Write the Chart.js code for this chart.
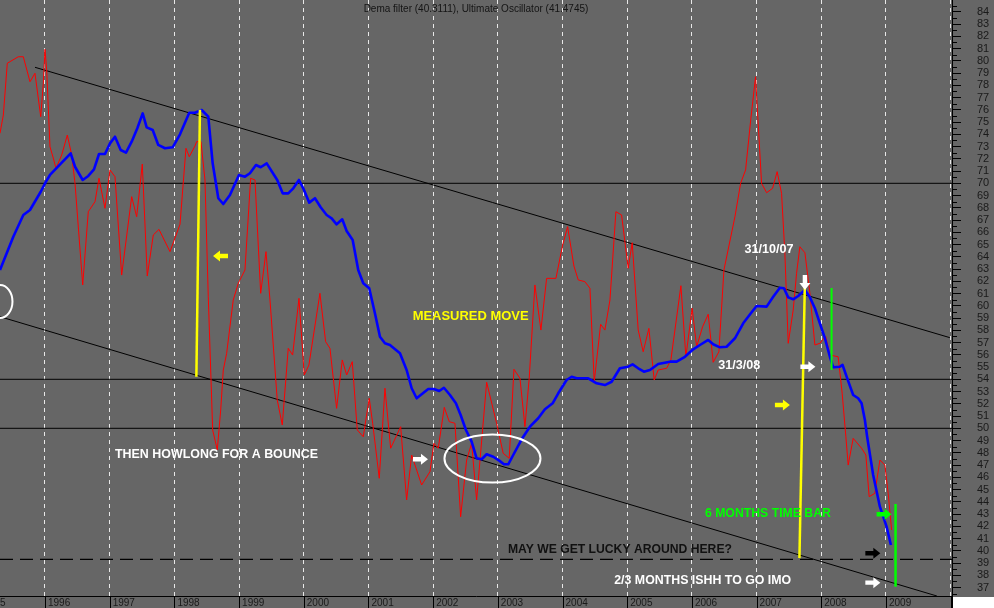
<!DOCTYPE html>
<html>
<head>
<meta charset="utf-8">
<script src="https://cdn.jsdelivr.net/npm/chart.js@4.4.1/dist/chart.umd.min.js"></script>
<style>
  html, body { margin: 0; padding: 0; background: #666666; }
  canvas { display: block; }
</style>
</head>
<body>
<canvas id="chart" width="994" height="608"></canvas>
<script>
// --- data (decimal years / oscillator values) ---
const redYears = [
  1995.304, 1995.356, 1995.417, 1995.459, 1995.587, 1995.665, 1995.768, 1995.845, 1995.934, 1995.974,
  1996.000, 1996.026, 1996.077, 1996.128, 1996.170, 1996.258, 1996.345, 1996.413, 1996.464, 1996.583,
  1996.669, 1996.773, 1996.835, 1996.927, 1997.005, 1997.082, 1997.185, 1997.340, 1997.417, 1997.504,
  1997.581, 1997.674, 1997.762, 1997.932, 1998.087, 1998.179, 1998.230, 1998.318, 1998.345, 1998.411,
  1998.473, 1998.524, 1998.592, 1998.663, 1998.716, 1998.756, 1998.808, 1998.910, 1998.988, 1999.091,
  1999.179, 1999.246, 1999.334, 1999.416, 1999.478, 1999.590, 1999.668, 1999.760, 1999.828, 1999.926,
  2000.008, 2000.080, 2000.250, 2000.338, 2000.405, 2000.508, 2000.595, 2000.663, 2000.750, 2000.827,
  2000.920, 2001.012, 2001.065, 2001.167, 2001.255, 2001.343, 2001.498, 2001.590, 2001.668, 2001.822,
  2001.951, 2002.012, 2002.079, 2002.172, 2002.249, 2002.337, 2002.425, 2002.518, 2002.595, 2002.672,
  2002.827, 2002.981, 2003.083, 2003.176, 2003.249, 2003.342, 2003.419, 2003.485, 2003.573, 2003.666,
  2003.754, 2003.898, 2004.002, 2004.079, 2004.176, 2004.243, 2004.346, 2004.424, 2004.490, 2004.589,
  2004.655, 2004.733, 2004.825, 2004.913, 2005.015, 2005.077, 2005.170, 2005.247, 2005.335, 2005.417,
  2005.479, 2005.609, 2005.675, 2005.830, 2005.907, 2006.004, 2006.073, 2006.165, 2006.252, 2006.329,
  2006.417, 2006.495, 2006.665, 2006.753, 2006.830, 2006.912, 2006.984, 2007.077, 2007.155, 2007.247,
  2007.318, 2007.386, 2007.437, 2007.489, 2007.566, 2007.618, 2007.669, 2007.747, 2007.824, 2007.901,
  2007.978, 2008.067, 2008.133, 2008.261, 2008.323, 2008.380, 2008.416, 2008.493, 2008.623, 2008.689,
  2008.740, 2008.828, 2008.906, 2008.983, 2009.034, 2009.087
];
const ultimateOsc = [
  74.08, 75.57, 79.80, 79.93, 80.33, 80.33, 78.29, 78.98, 75.44, 78.16,
  80.94, 79.25, 72.99, 72.06, 71.22, 72.31, 73.94, 72.31, 70.00, 61.70,
  67.68, 68.50, 70.41, 67.96, 71.09, 70.54, 62.51, 68.91, 67.27, 71.57,
  62.43, 65.78, 66.24, 64.42, 66.65, 72.86, 72.17, 73.04, 73.40, 73.40,
  70.27, 60.74, 49.86, 48.23, 51.49, 54.76, 56.12, 60.47, 61.84, 62.92,
  70.41, 70.27, 61.02, 64.42, 60.47, 52.31, 50.27, 56.53, 55.98, 60.61,
  54.35, 55.17, 61.02, 57.07, 56.53, 51.63, 55.58, 54.35, 55.44, 49.86,
  49.31, 52.45, 50.41, 45.92, 53.27, 48.37, 50.13, 44.15, 47.82, 45.37,
  46.46, 48.78, 48.37, 51.71, 50.54, 50.41, 42.78, 47.41, 48.78, 44.15,
  53.76, 50.41, 47.96, 47.55, 54.82, 54.08, 50.13, 54.08, 61.70, 58.02,
  62.24, 62.24, 64.96, 66.46, 63.25, 62.11, 61.97, 61.43, 53.80, 58.49,
  58.02, 60.47, 67.68, 67.41, 63.06, 65.15, 58.02, 56.25, 58.16, 53.94,
  54.76, 54.90, 55.58, 61.64, 55.84, 59.80, 56.66, 58.29, 59.31, 55.39,
  56.25, 62.92, 67.27, 70.00, 71.09, 75.31, 78.70, 70.00, 69.23, 69.59,
  70.95, 69.18, 64.29, 56.94, 59.66, 62.65, 64.82, 64.33, 61.02, 56.80,
  56.94, 57.53, 55.98, 55.84, 52.86, 49.31, 47.00, 49.18, 48.37, 47.82,
  44.42, 44.69, 47.41, 47.00, 44.69, 41.70
];

const blueYears = [
  1995.304, 1995.408, 1995.510, 1995.665, 1995.768, 1995.934, 1996.015, 1996.077, 1996.397, 1996.464,
  1996.583, 1996.669, 1996.757, 1996.835, 1996.927, 1997.005, 1997.082, 1997.170, 1997.252, 1997.340,
  1997.427, 1997.510, 1997.572, 1997.665, 1997.751, 1997.855, 1997.974, 1998.087, 1998.230, 1998.318,
  1998.422, 1998.524, 1998.592, 1998.679, 1998.756, 1998.859, 1998.998, 1999.091, 1999.168, 1999.261,
  1999.334, 1999.427, 1999.590, 1999.674, 1999.760, 1999.838, 1999.926, 1999.992, 2000.085, 2000.173,
  2000.261, 2000.354, 2000.431, 2000.508, 2000.595, 2000.663, 2000.756, 2000.842, 2000.920, 2001.012,
  2001.100, 2001.178, 2001.255, 2001.332, 2001.487, 2001.590, 2001.668, 2001.745, 2001.924, 2002.012,
  2002.094, 2002.167, 2002.260, 2002.352, 2002.425, 2002.507, 2002.595, 2002.672, 2002.750, 2002.827,
  2002.929, 2003.022, 2003.094, 2003.161, 2003.238, 2003.368, 2003.496, 2003.624, 2003.728, 2003.847,
  2003.934, 2004.063, 2004.141, 2004.218, 2004.398, 2004.527, 2004.655, 2004.759, 2004.887, 2005.015,
  2005.083, 2005.170, 2005.258, 2005.351, 2005.479, 2005.660, 2005.764, 2005.892, 2006.020, 2006.124,
  2006.252, 2006.329, 2006.433, 2006.536, 2006.665, 2006.793, 2006.923, 2007.000, 2007.155, 2007.257,
  2007.360, 2007.422, 2007.489, 2007.566, 2007.643, 2007.747, 2007.824, 2007.901, 2007.978, 2008.056,
  2008.133, 2008.184, 2008.288, 2008.329, 2008.401, 2008.493, 2008.570, 2008.623, 2008.674, 2008.709,
  2008.802, 2008.906, 2009.009, 2009.076
];
const demaFilter = [
  62.92, 64.29, 65.64, 67.41, 67.82, 69.31, 70.13, 70.68, 72.45, 71.35,
  70.27, 70.60, 71.14, 72.39, 72.39, 73.26, 73.80, 72.72, 72.50, 73.40,
  74.49, 75.71, 74.57, 74.35, 73.13, 72.86, 72.94, 74.00, 75.76, 75.76,
  75.98, 75.44, 71.63, 68.78, 68.31, 69.04, 70.68, 70.54, 70.82, 71.49,
  71.31, 71.63, 70.27, 69.18, 69.18, 69.59, 70.27, 69.59, 68.42, 68.78,
  68.04, 67.41, 67.14, 66.65, 67.06, 66.11, 65.37, 62.92, 61.84, 61.43,
  59.39, 57.48, 56.94, 56.80, 56.12, 54.76, 53.27, 52.45, 53.21, 53.21,
  53.04, 53.31, 52.72, 52.04, 51.09, 49.86, 48.91, 47.55, 47.47, 47.88,
  47.68, 47.36, 47.06, 47.06, 47.82, 49.10, 50.13, 50.82, 51.55, 52.04,
  52.86, 53.94, 54.21, 54.08, 54.08, 53.67, 53.53, 53.80, 54.90, 55.03,
  55.22, 54.90, 54.62, 54.76, 55.25, 55.44, 55.44, 55.84, 56.45, 56.80,
  57.21, 56.86, 56.61, 56.66, 57.35, 58.57, 59.47, 59.98, 59.93, 60.74,
  61.48, 61.43, 60.69, 60.53, 60.80, 61.29, 60.69, 59.80, 58.57, 57.35,
  55.84, 54.98, 55.03, 55.17, 54.08, 52.72, 52.45, 52.04, 50.68, 49.31,
  46.19, 43.60, 41.97, 40.47
];

const yearTicks = [1995, 1996, 1997, 1998, 1999, 2000, 2001, 2002, 2003, 2004, 2005, 2006, 2007, 2008, 2009, 2010];
const valueTicks = [];
for (let v = 37; v <= 84; v++) valueTicks.push(v);

// drawn levels and trend channel (in data units)
const solidLevels = [70, 54, 50];
const dashedLevel = 39.3;
const upperChannelX = [1995.845, 2009.987];
const upperChannelY = [79.47, 57.40];
const lowerChannelX = [1995.304, 2009.787];
const lowerChannelY = [59.11, 36.31];

const xMin = 1995.3044, xMax = 2010.0206;
const yMin = 36.31, yMax = 84.963;

// hand-drawn annotations, placed in data units
const markerLines = [
  { x1: 1998.395, y1: 76.0, x2: 1998.340, y2: 54.2, color: '#ffff00', width: 2.5 },
  { x1: 2007.747, y1: 62.1, x2: 2007.662, y2: 39.4, color: '#ffff00', width: 2.5 },
  { x1: 2008.159, y1: 61.45, x2: 2008.159, y2: 54.76, color: '#00ff00', width: 2 },
  { x1: 2009.148, y1: 43.82, x2: 2009.148, y2: 37.07, color: '#00ff00', width: 2.5 }
];
const rings = [
  { x: 1995.304, y: 60.35, rx: 12.5, ry: 16.5 },
  { x: 2002.917, y: 47.53, rx: 48, ry: 24 }
];
const arrows = [
  { x: 1998.713, y: 64.07, dir: 'left', color: '#ffff00' },
  { x: 2001.804, y: 47.47, dir: 'right', color: '#ffffff' },
  { x: 2007.747, y: 61.90, dir: 'down', color: '#ffffff' },
  { x: 2007.793, y: 55.03, dir: 'right', color: '#ffffff' },
  { x: 2007.399, y: 51.90, dir: 'right', color: '#ffff00' },
  { x: 2008.971, y: 42.98, dir: 'right', color: '#00ff00' },
  { x: 2008.797, y: 39.80, dir: 'right', color: '#000000' },
  { x: 2008.797, y: 37.40, dir: 'right', color: '#ffffff' }
];
const notes = [
  { text: 'MEASURED MOVE', x: 2001.683, y: 59.11, color: '#ffff00', maxW: 116 },
  { text: '31/10/07', x: 2006.813, y: 64.61, color: '#ffffff', maxW: 49 },
  { text: '31/3/08', x: 2006.406, y: 55.17, color: '#ffffff', maxW: 42 },
  { text: 'THEN HOWLONG FOR A BOUNCE', x: 1997.082, y: 47.88, color: '#ffffff', maxW: 203 },
  { text: '6 MONTHS TIME BAR', x: 2006.201, y: 43.06, color: '#00ff00', maxW: 126 },
  { text: 'MAY WE GET LUCKY AROUND HERE?', x: 2003.156, y: 40.12, color: '#111111', maxW: 224 },
  { text: '2/3 MONTHS ISHH TO GO IMO', x: 2004.799, y: 37.62, color: '#ffffff', maxW: 177 }
];

const BG = '#666666';

function pairs(xs, ys) {
  return xs.map((v, i) => ({ x: v, y: ys[i] }));
}
function lineSet(data, color, width, extra) {
  return Object.assign({
    data: data, borderColor: color, borderWidth: width,
    pointRadius: 0, tension: 0, fill: false
  }, extra || {});
}

function drawArrow(ctx, cx, cy, dir, color) {
  const L = 15, H = 7, hw = 5.5, sw = 2.2;
  const ang = { right: 0, left: Math.PI, down: Math.PI / 2, up: -Math.PI / 2 }[dir];
  ctx.save();
  ctx.translate(cx, cy);
  ctx.rotate(ang);
  ctx.beginPath();
  ctx.moveTo(-L / 2, -sw);
  ctx.lineTo(L / 2 - H, -sw);
  ctx.lineTo(L / 2 - H, -hw);
  ctx.lineTo(L / 2, 0);
  ctx.lineTo(L / 2 - H, hw);
  ctx.lineTo(L / 2 - H, sw);
  ctx.lineTo(-L / 2, sw);
  ctx.closePath();
  ctx.fillStyle = color;
  ctx.fill();
  ctx.restore();
}

const chartDecor = {
  id: 'chartDecor',
  beforeDraw(chart) {
    const ctx = chart.ctx;
    ctx.save();
    ctx.fillStyle = BG;
    ctx.fillRect(0, 0, chart.width, chart.height);
    ctx.restore();
  },
  afterDatasetsDraw(chart) {
    const { ctx, chartArea: a } = chart;
    const x = chart.scales.x, y = chart.scales.y;
    ctx.save();
    ctx.beginPath();
    ctx.rect(a.left, a.top, a.right - a.left, a.bottom - a.top);
    ctx.clip();

    markerLines.forEach(m => {
      ctx.strokeStyle = m.color;
      ctx.lineWidth = m.width;
      ctx.beginPath();
      ctx.moveTo(x.getPixelForValue(m.x1), y.getPixelForValue(m.y1));
      ctx.lineTo(x.getPixelForValue(m.x2), y.getPixelForValue(m.y2));
      ctx.stroke();
    });

    ctx.strokeStyle = '#ffffff';
    ctx.lineWidth = 2;
    rings.forEach(r => {
      ctx.beginPath();
      ctx.ellipse(x.getPixelForValue(r.x), y.getPixelForValue(r.y), r.rx, r.ry, 0, 0, Math.PI * 2);
      ctx.stroke();
    });

    arrows.forEach(p => drawArrow(ctx, x.getPixelForValue(p.x), y.getPixelForValue(p.y), p.dir, p.color));

    ctx.font = 'bold 13px "Liberation Sans", Arial, sans-serif';
    ctx.textAlign = 'left';
    ctx.textBaseline = 'middle';
    notes.forEach(n => {
      ctx.fillStyle = n.color;
      ctx.fillText(n.text, x.getPixelForValue(n.x), y.getPixelForValue(n.y), n.maxW);
    });
    ctx.restore();
  },
  afterDraw(chart) {
    const { ctx, chartArea: a } = chart;
    const x = chart.scales.x, y = chart.scales.y;
    ctx.save();
    ctx.strokeStyle = '#000000';
    ctx.lineWidth = 1;
    // minor ticks on the value axis
    for (let v = 36.5; v < yMax; v += 1) {
      const py = Math.round(y.getPixelForValue(v)) + 0.5;
      ctx.beginPath();
      ctx.moveTo(a.right, py);
      ctx.lineTo(a.right + 5, py);
      ctx.stroke();
    }
    // year separators in the date strip
    yearTicks.forEach(t => {
      const px = Math.round(x.getPixelForValue(t)) + 0.5;
      ctx.beginPath();
      ctx.moveTo(px, a.bottom);
      ctx.lineTo(px, chart.height);
      ctx.stroke();
    });
    // blank corner under the value axis
    ctx.fillStyle = '#ffffff';
    ctx.fillRect(a.right + 1, a.bottom + 1, chart.width - a.right, chart.height - a.bottom);
    ctx.beginPath();
    ctx.moveTo(a.right + 0.5, a.bottom);
    ctx.lineTo(a.right + 0.5, chart.height);
    ctx.stroke();

    ctx.fillStyle = '#141414';
    ctx.font = '10px "Liberation Sans", Arial, sans-serif';
    ctx.textAlign = 'center';
    ctx.textBaseline = 'middle';
    ctx.fillText('Dema filter (40.3111), Ultimate Oscillator (41.4745)', (a.left + a.right) / 2, 9);
    ctx.restore();
  }
};

const datasets = [
  lineSet(pairs(blueYears, demaFilter), '#0000ff', 2.6, { borderJoinStyle: 'round' }),
  lineSet(pairs(redYears, ultimateOsc), '#ff0000', 1)
];
datasets.push(lineSet(pairs(upperChannelX, upperChannelY), '#000000', 1));
datasets.push(lineSet(pairs(lowerChannelX, lowerChannelY), '#000000', 1));
solidLevels.forEach(lv => datasets.push(lineSet(pairs([xMin, xMax], [lv, lv]), '#000000', 1)));
datasets.push(lineSet(pairs([xMin, xMax], [dashedLevel, dashedLevel]), '#000000', 1.2, { borderDash: [13, 7] }));

new Chart(document.getElementById('chart'), {
  type: 'line',
  data: { datasets: datasets },
  plugins: [chartDecor],
  options: {
    responsive: false,
    animation: false,
    events: [],
    layout: { padding: 0 },
    plugins: {
      legend: { display: false },
      title: { display: false },
      tooltip: { enabled: false }
    },
    scales: {
      x: {
        type: 'linear',
        position: 'bottom',
        min: xMin,
        max: xMax,
        afterBuildTicks: s => { s.ticks = yearTicks.map(v => ({ value: v })); },
        afterFit: s => { s.height = 12; s.paddingLeft = 0; s.paddingRight = 0; },
        grid: { color: '#e8e8e8', lineWidth: 1, drawTicks: false },
        border: { display: true, color: '#000000', dash: [4, 4] },
        ticks: {
          align: 'start', labelOffset: 3, padding: 1, autoSkip: false, maxRotation: 0,
          color: '#1a1a1a', font: { family: '"Liberation Sans", Arial', size: 10 },
          callback: v => String(v)
        }
      },
      y: {
        type: 'linear',
        position: 'right',
        min: yMin,
        max: yMax,
        afterBuildTicks: s => { s.ticks = valueTicks.map(v => ({ value: v })); },
        afterFit: s => { s.width = 42; s.paddingTop = 0; s.paddingBottom = 0; },
        grid: { drawOnChartArea: false, drawTicks: true, tickLength: 9, color: '#000000' },
        border: { display: true, color: '#000000' },
        ticks: {
          padding: 16, autoSkip: false,
          color: '#1a1a1a', font: { family: '"Liberation Sans", Arial', size: 11 },
          callback: v => String(v)
        }
      }
    }
  }
});
</script>
</body>
</html>
